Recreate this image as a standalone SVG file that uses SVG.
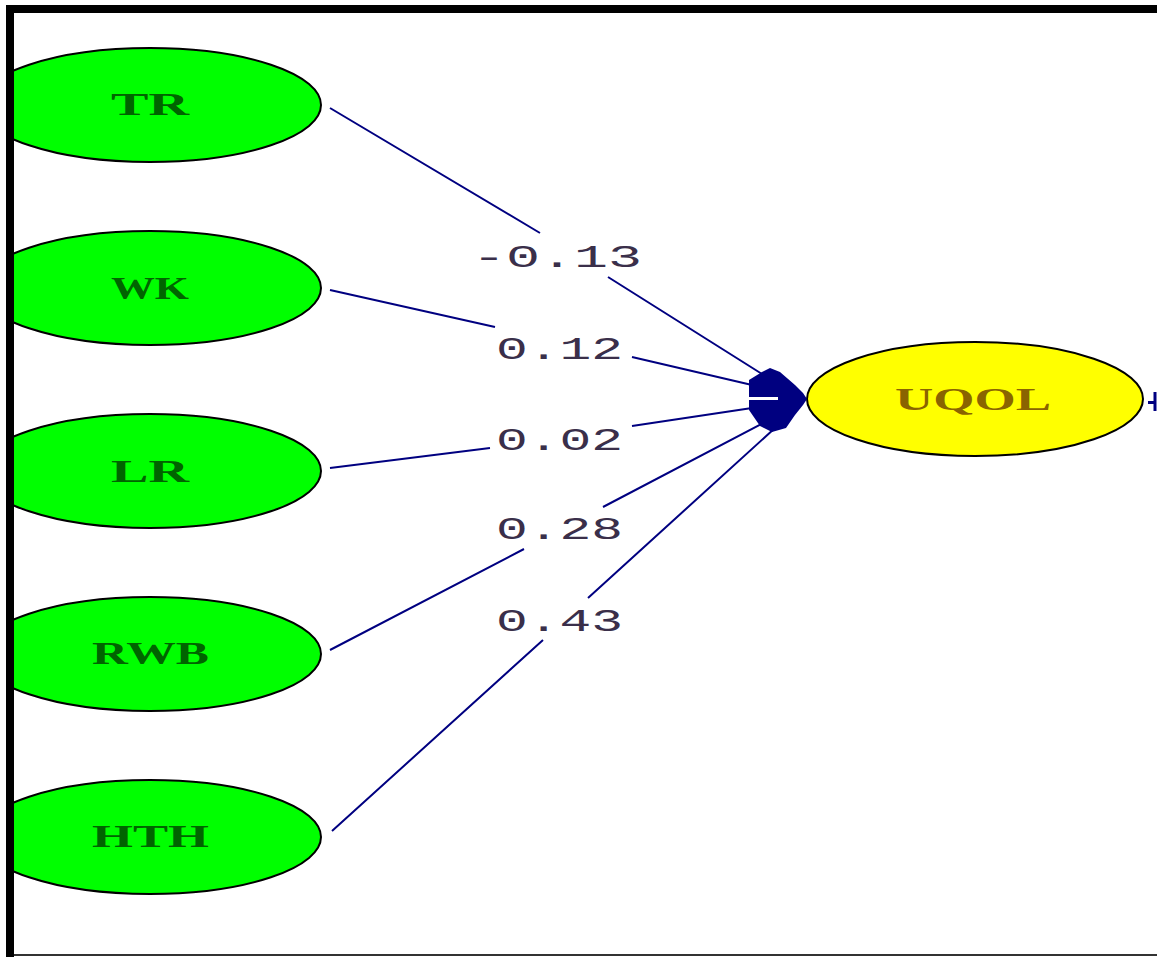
<svg xmlns="http://www.w3.org/2000/svg" width="1157" height="957" viewBox="0 0 1157 957">
<style>
.src{fill:#00ff00;stroke:#000;stroke-width:2}
.tgt{fill:#ffff00;stroke:#000;stroke-width:2}
.nt{font-family:"Liberation Serif","Times New Roman",serif;font-weight:bold;font-size:32px;fill:#006400}
.ut{font-family:"Liberation Serif","Times New Roman",serif;font-weight:bold;font-size:32px;fill:#8a6400}
.lbl{font-family:"Liberation Mono","Courier New",monospace;font-size:32px;fill:#3a2f4a}
.ln{stroke:#000080;stroke-width:2;fill:none}
</style>
<defs><clipPath id="frame"><rect x="14" y="13" width="1143" height="944"/></clipPath></defs>
<rect x="0" y="0" width="1157" height="957" fill="#fff"/>
<g clip-path="url(#frame)">
<g id="TR"><ellipse class="src" cx="150" cy="105" rx="171" ry="57"/><text class="nt" x="111" y="115" textLength="78" lengthAdjust="spacingAndGlyphs">TR</text></g>
<g id="WK"><ellipse class="src" cx="150" cy="288" rx="171" ry="57"/><text class="nt" x="111" y="299" textLength="78" lengthAdjust="spacingAndGlyphs">WK</text></g>
<g id="LR"><ellipse class="src" cx="150" cy="471" rx="171" ry="57"/><text class="nt" x="111" y="482" textLength="78" lengthAdjust="spacingAndGlyphs">LR</text></g>
<g id="RWB"><ellipse class="src" cx="150" cy="654" rx="171" ry="57"/><text class="nt" x="92" y="664" textLength="117" lengthAdjust="spacingAndGlyphs">RWB</text></g>
<g id="HTH"><ellipse class="src" cx="150" cy="837" rx="171" ry="57"/><text class="nt" x="92" y="847" textLength="117" lengthAdjust="spacingAndGlyphs">HTH</text></g>
</g>
<g id="UQOL"><ellipse class="tgt" cx="975" cy="399" rx="168" ry="57"/><text class="ut" x="895" y="410" textLength="156" lengthAdjust="spacingAndGlyphs">UQOL</text></g>
<g id="connectors">
<path class="ln" d="M330,108 L540,233 M608,277 L762,374"/>
<path class="ln" d="M330,290 L495,327 M632,357 L752,385"/>
<path class="ln" d="M330,468 L490,448 M632,426 L752,408"/>
<path class="ln" d="M330,650 L524,549 M603,507 L765,422"/>
<path class="ln" d="M332,831 L543,640 M588,598 L775,428"/>
<polygon fill="#000080" points="770,368 780,372 795,385 803,393 807,399 803,405 795,415 786,428 772,432 760,426 749,410 749,380 762,372"/>
<line x1="749" y1="398.5" x2="778" y2="398.5" stroke="#fff" stroke-width="3"/>
<path d="M1148,402.5 H1155 M1155,392 V411" stroke="#000080" stroke-width="3" fill="none"/>
<text class="lbl" x="472" y="267" textLength="170" lengthAdjust="spacingAndGlyphs">-0.13</text>
<text class="lbl" x="496" y="359" textLength="127" lengthAdjust="spacingAndGlyphs">0.12</text>
<text class="lbl" x="496" y="450" textLength="127" lengthAdjust="spacingAndGlyphs">0.02</text>
<text class="lbl" x="496" y="539" textLength="127" lengthAdjust="spacingAndGlyphs">0.28</text>
<text class="lbl" x="496" y="631" textLength="127" lengthAdjust="spacingAndGlyphs">0.43</text>
</g>
<rect x="6" y="5" width="8" height="952" fill="#000"/>
<rect x="6" y="5" width="1151" height="8" fill="#000"/>
<line x1="14" y1="955" x2="1157" y2="955" stroke="#333" stroke-width="2"/>
</svg>
